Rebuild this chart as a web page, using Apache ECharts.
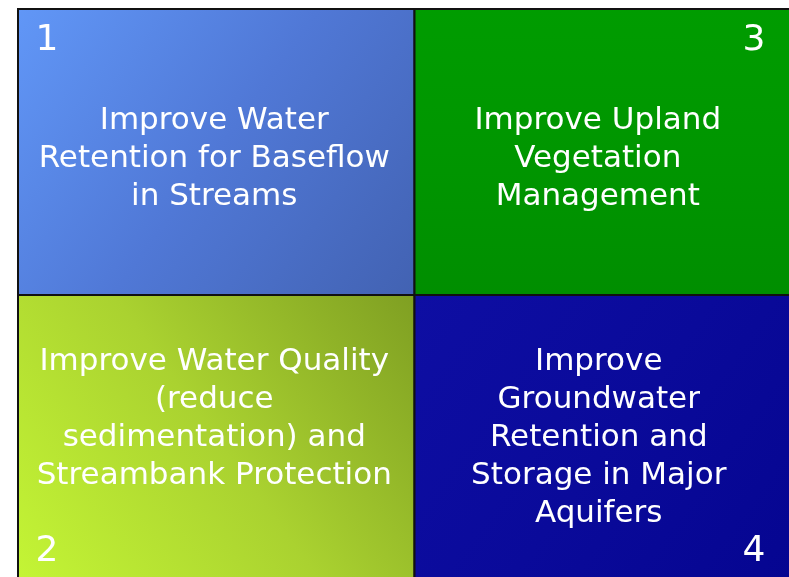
<!DOCTYPE html>
<html lang="en">
<head>
	<meta charset="UTF-8">
	<title>Water management priorities</title>
	<style>
		html, body { margin: 0; padding: 0; background: #fff; overflow: hidden; }
		/* the picture is cropped on the right and bottom, so the chart is a bit larger than the window */
		.chart-box { width: 811px; height: 581px; }
	</style>
</head>
<body>
<div id="quad" class="chart-box"></div>

<script src="https://cdn.jsdelivr.net/npm/echarts@6.0.0/dist/echarts.min.js"></script>
<script>

	// 2 x 2 grid of priorities
	var colCats = ['left', 'right'];
	var rowCats = ['top', 'bottom'];

	var cellNums = ['1', '2', '3', '4'];
	var cellCol = [0, 0, 1, 1];
	var cellRow = [0, 1, 0, 1];
	var cellLabels = [
		'Improve Water\nRetention for Baseflow\nin Streams',
		'Improve Water Quality\n(reduce\nsedimentation) and\nStreambank Protection',
		'Improve Upland\nVegetation\nManagement',
		'Improve\nGroundwater\nRetention and\nStorage in Major\nAquifers'
	];

	// fills, one per cell
	function grad(x, y, x2, y2, stops) {
		return new echarts.graphic.LinearGradient(x, y, x2, y2, stops.map(function (c, i) {
			return { offset: i / (stops.length - 1), color: c };
		}));
	}
	var cellFills = [
		grad(0, 0, 1, 1, ['#6197f7', '#5078d6', '#4262b2']),
		grad(0, 1, 1, 0, ['#c4f535', '#aad230', '#7f9f22']),
		grad(0, 0, 0, 1, ['#009c00', '#009600', '#008e00']),
		grad(0, 0, 1, 1, ['#0e0ea3', '#0a0a9a', '#050590'])
	];
	// text nudges inside each visible cell [dx, dy]
	var textNudge = [[-2, 7], [-2, -17], [-4, 7], [-3, 2]];

	var viewW = 789, viewH = 577;

	var myChart = echarts.init(document.getElementById('quad'));

	var seriesData = [];
	for (var i = 0; i < cellNums.length; i++) {
		seriesData.push([cellCol[i], cellRow[i], i]);
	}

	function renderCell(params, api) {
		var idx = api.value(2);
		var c = api.coord([api.value(0), api.value(1)]);
		var s = api.size([1, 1]);
		var x0 = c[0] - s[0] / 2, y0 = c[1] - s[1] / 2;
		// the part of the cell that is on screen
		var vx1 = Math.min(x0 + s[0], viewW);
		var vy1 = Math.min(y0 + s[1], viewH);
		var cx = (x0 + vx1) / 2 + textNudge[idx][0];
		var cy = (y0 + vy1) / 2 + textNudge[idx][1];

		var isRight = cellCol[idx] == 1;
		var isBottom = cellRow[idx] == 1;
		var nx = isRight ? vx1 - 35 : x0 + 29;
		var ny = isBottom ? vy1 - 25 : y0 + 32;

		return {
			type: 'group',
			children: [{
				type: 'rect',
				shape: { x: x0, y: y0, width: s[0], height: s[1] },
				style: { fill: cellFills[idx], stroke: '#111', lineWidth: 2 }
			}, {
				type: 'text',
				style: {
					text: cellLabels[idx],
					x: cx, y: cy,
					align: 'center', verticalAlign: 'middle',
					fill: '#fff',
					font: '31px "DejaVu Sans"',
					lineHeight: 38
				}
			}, {
				type: 'text',
				style: {
					text: cellNums[idx],
					x: nx, y: ny,
					align: 'center', verticalAlign: 'middle',
					fill: '#fff',
					font: '36px "DejaVu Sans"'
				}
			}]
		};
	}

	var option = {
		animation: false,
		grid: { left: 18, top: 9, right: 0, bottom: 0 },
		xAxis: { type: 'category', data: colCats, show: false },
		yAxis: { type: 'category', data: rowCats, inverse: true, show: false },
		series: [{
			type: 'custom',
			renderItem: renderCell,
			data: seriesData
		}]
	};

	myChart.setOption(option);

</script>
</body>
</html>
